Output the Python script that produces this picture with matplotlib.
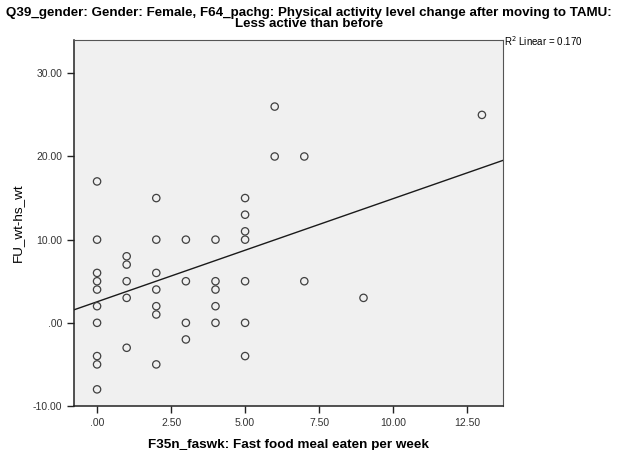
import matplotlib

matplotlib.use("Agg")
import matplotlib.pyplot as plt
import numpy as np

plt.rcParams["font.family"] = ["Liberation Sans", "DejaVu Sans"]

# Puntos (comidas rapidas por semana, cambio de peso)
comidas = [0, 0, 0, 0, 0, 0, 0, 0, 0, 0,
           1, 1, 1, 1, 1,
           2, 2, 2, 2, 2, 2, 2,
           3, 3, 3, 3,
           4, 4, 4, 4, 4,
           5, 5, 5, 5, 5, 5, 5,
           6, 6,
           7, 7,
           9,
           13]
peso = [17, 10, 6, 5, 4, 2, 0, -4, -5, -8,
        8, 7, 5, 3, -3,
        15, 10, 6, 4, 2, 1, -5,
        10, 5, 0, -2,
        10, 5, 4, 2, 0,
        15, 13, 11, 10, 5, 0, -4,
        26, 20,
        20, 5,
        3,
        25]

# Recta de ajuste
ajuste_intercepto = 2.53
ajuste_pendiente = 1.24
r2 = 0.170

titulo = ("Q39_gender: Gender: Female, F64_pachg: Physical activity level change after moving to TAMU:\n"
          "Less active than before")

fig = plt.figure(figsize=(6.18, 4.5), dpi=100)
ax = fig.add_axes([0.1197, 0.0978, 0.8143 - 0.1197, 0.911 - 0.0978])
ax.set_facecolor("#f0f0f0")

ax.scatter(comidas, peso, s=28, facecolors="none", edgecolors="#404040", linewidths=0.9, zorder=3)

xlim = (-0.78, 13.72)
xs = np.array(xlim)
ax.plot(xs, ajuste_intercepto + ajuste_pendiente * xs, color="#1a1a1a", lw=1.0, zorder=2)

ax.set_xlim(*xlim)
ax.set_ylim(-10, 34)
ax.set_xticks([0, 2.5, 5, 7.5, 10, 12.5])
ax.set_xticklabels([".00", "2.50", "5.00", "7.50", "10.00", "12.50"])
ax.set_yticks([-10, 0, 10, 20, 30])
ax.set_yticklabels(["-10.00", ".00", "10.00", "20.00", "30.00"])
ax.tick_params(direction="out", length=5, width=1, labelsize=7.5, labelcolor="#333333", color="#222222")

for lado in ["left", "bottom"]:
    ax.spines[lado].set_color("#222222")
    ax.spines[lado].set_linewidth(1.1)
for lado in ["top", "right"]:
    ax.spines[lado].set_color("#555555")
    ax.spines[lado].set_linewidth(0.8)

ax.set_xlabel("F35n_faswk: Fast food meal eaten per week", fontsize=9.7, fontweight="bold", labelpad=8)
ax.set_ylabel("FU_wt-hs_wt", fontsize=9.7, labelpad=6)

fig.text(0.5, 0.985, titulo, ha="center", va="top", fontsize=9.6, fontweight="bold", linespacing=0.9)
fig.text(0.815, 0.893, f"R$^2$ Linear = {r2:.3f}", ha="left", va="bottom", fontsize=7)

fig.savefig("out.png", dpi=100)
